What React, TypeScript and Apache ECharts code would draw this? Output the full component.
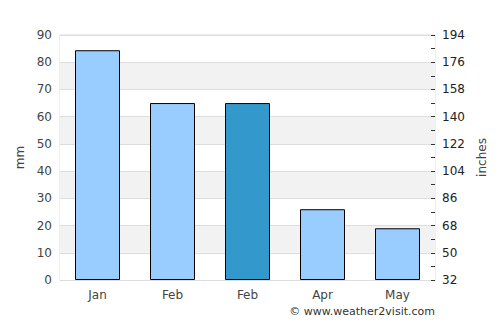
import React, { useEffect, useRef } from "react";
import * as echarts from "echarts";

const categories = ["Jan", "Feb", "Feb", "Apr", "May"];
const rainfallMm = [84.4, 65, 65, 26, 19];
const highlightIndex = 2;
const leftTicks = { min: 0, max: 90, interval: 10 };
const rightTicks = { min: 32, max: 194, interval: 18 };

export default function App() {
  const ref = useRef<HTMLDivElement>(null);
  useEffect(() => {
    if (!ref.current) return;
    const chart = echarts.init(ref.current, undefined, { renderer: "svg" });
    const font = "DejaVu Sans";
    chart.setOption({
      animation: false,
      textStyle: { fontFamily: font },
      grid: { left: 60, right: 65, top: 35, bottom: 45, show: true, borderColor: "#dddddd", borderWidth: 1 },
      xAxis: {
        type: "category",
        data: categories,
        axisLine: { show: true, lineStyle: { color: "#dddddd" } },
        axisTick: { show: false },
        axisLabel: { color: "#444", fontSize: 12, margin: 9, fontFamily: font },
      },
      yAxis: [
        {
          type: "value",
          min: leftTicks.min,
          max: leftTicks.max,
          interval: leftTicks.interval,
          name: "mm",
          nameLocation: "middle",
          nameGap: 34,
          nameTextStyle: { color: "#444", fontSize: 12, fontFamily: font },
          axisLine: { show: false },
          axisTick: { show: false },
          axisLabel: { color: "#444", fontSize: 12, margin: 8, fontFamily: font },
          splitLine: { show: true, lineStyle: { color: "#dddddd" } },
          splitArea: { show: true, areaStyle: { color: ["#ffffff", "#f2f2f2"] } },
        },
        {
          type: "value",
          position: "right",
          min: rightTicks.min,
          max: rightTicks.max,
          interval: rightTicks.interval,
          name: "inches",
          nameLocation: "middle",
          nameGap: 41,
          nameTextStyle: { color: "#444", fontSize: 12, fontFamily: font },
          axisLine: { show: false },
          axisTick: { show: true, inside: true, length: 4, lineStyle: { color: "#333" } },
          minorTick: { show: true, splitNumber: 2, length: 4, lineStyle: { color: "#333" } },
          axisLabel: { color: "#222", fontSize: 12, margin: 7, fontFamily: font },
          splitLine: { show: false },
        },
      ],
      graphic: [
        {
          type: "text",
          right: 65,
          top: 306,
          style: { text: "© www.weather2visit.com", fill: "#333", fontSize: 11, fontFamily: font },
        },
      ],
      series: [
        {
          type: "bar",
          data: rainfallMm.map((v, i) => ({
            value: v,
            itemStyle: { color: i === highlightIndex ? "#3399cc" : "#99ccff" },
          })),
          barWidth: "60%",
          itemStyle: { borderColor: "#000", borderWidth: 1 },
        },
      ],
    });
    return () => chart.dispose();
  }, []);
  return <div ref={ref} style={{ position: "absolute", left: 0, top: 0, width: 500, height: 325 }} />;
}
